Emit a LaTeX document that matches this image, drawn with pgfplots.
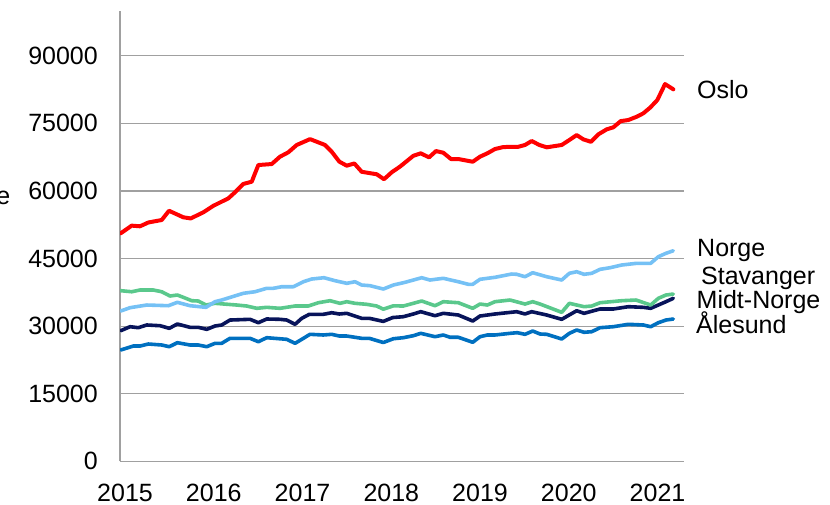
\documentclass[border=0pt]{standalone}
\usepackage{pgfplots}
\pgfplotsset{compat=1.18}
\usepackage{fontspec}
\setmainfont{Liberation Sans}
\definecolor{cOslo}{RGB}{255,0,0}
\definecolor{cNorge}{RGB}{117,193,245}
\definecolor{cStav}{RGB}{90,200,140}
\definecolor{cMidt}{RGB}{8,20,90}
\definecolor{cAal}{RGB}{0,112,192}
\definecolor{cGrid}{RGB}{160,160,160}
\newcommand{\lbl}{\fontsize{25bp}{30bp}\selectfont}
\begin{document}
\begin{tikzpicture}
\path[use as bounding box] (0,0) rectangle (830bp,505bp);
\begin{axis}[
  at={(120bp,43.7bp)}, anchor=south west,
  scale only axis, width=564bp, height=450.6bp,
  xmin=-0.1, xmax=77.48, ymin=0, ymax=100000,
  axis lines*=left,
  axis line style={cGrid, line width=1.2bp},
  ymajorgrids, grid style={cGrid, line width=1.2bp},
  ytick={0,15000,30000,45000,60000,75000,90000},
  yticklabels={0,15000,30000,45000,60000,75000,90000},
  xtick={0.59,12.80,25.01,37.22,49.42,61.63,73.84},
  xticklabels={2015,2016,2017,2018,2019,2020,2021},
  major tick length=0pt,
  /pgf/number format/assume math mode=true,
  tick label style={font=\lbl},
  yticklabel style={anchor=east, inner sep=0pt, xshift=-22bp},
  xticklabel style={anchor=north, inner sep=0pt, yshift=-22.2bp},
  every axis plot/.append style={line width=3.6bp, line join=round, line cap=round},
]
\addplot[cAal] coordinates {(0,24700)(1.73,25580)(2.65,25580)(3.80,26030)(5.64,25810)(6.68,25430)(7.79,26320)(9.53,25810)(10.67,25810)(11.83,25430)(12.97,26180)(13.89,26180)(15.03,27290)(17.79,27290)(18.93,26540)(20.08,27430)(22.83,27070)(23.98,26180)(26.04,28180)(27.87,28030)(29.02,28180)(30.07,27800)(31.09,27800)(33.15,27290)(34.20,27290)(36.12,26360)(37.50,27200)(38.87,27430)(40.25,27870)(41.27,28400)(43.23,27650)(44.37,28030)(45.30,27520)(46.44,27520)(48.42,26410)(49.42,27650)(50.43,28030)(51.48,28030)(53.55,28400)(54.55,28540)(55.61,28180)(56.67,28910)(57.68,28250)(58.60,28180)(60.66,27140)(61.71,28400)(62.72,29140)(63.73,28630)(64.79,28760)(65.93,29650)(67.76,29870)(69.82,30400)(71.88,30250)(72.90,29870)(73.95,30760)(75.00,31350)(76.01,31580)};
\addplot[cMidt] coordinates {(0,28980)(1.28,29870)(2.42,29650)(3.58,30250)(5.41,30090)(6.68,29510)(7.79,30470)(9.53,29730)(10.67,29730)(11.83,29290)(12.97,30020)(13.89,30250)(15.03,31350)(17.79,31510)(18.93,30760)(20.08,31580)(21.91,31510)(22.83,31350)(23.98,30400)(24.90,31730)(25.94,32620)(27.87,32620)(29.02,32970)(30.07,32690)(31.09,32840)(33.15,31730)(34.20,31730)(36.12,31050)(37.41,31900)(38.87,32090)(40.25,32690)(41.27,33200)(43.23,32310)(44.37,32840)(46.44,32460)(48.42,31130)(49.42,32240)(51.48,32690)(54.47,33200)(55.61,32690)(56.53,33200)(58.60,32460)(60.66,31510)(62.72,33420)(63.73,32840)(65.93,33800)(67.76,33800)(69.82,34310)(71.88,34170)(72.90,33950)(75.00,35420)(76.01,36170)};
\addplot[cStav] coordinates {(0,37860)(1.51,37630)(2.65,38010)(4.48,38010)(5.64,37630)(6.78,36680)(7.79,36900)(8.61,36390)(9.77,35640)(10.67,35570)(11.73,34680)(12.97,35060)(15.96,34680)(17.33,34460)(18.71,33950)(20.08,34170)(21.91,33950)(23.98,34460)(25.80,34460)(27.18,35190)(28.79,35640)(30.16,35060)(31.09,35420)(32.23,35060)(33.84,34840)(35.21,34460)(36.12,33760)(37.50,34500)(38.87,34460)(40.25,35060)(41.40,35570)(43.23,34530)(44.37,35420)(46.44,35190)(48.42,33950)(49.42,34900)(50.43,34680)(51.48,35420)(53.55,35790)(55.61,34900)(56.67,35420)(57.68,34900)(60.66,33060)(61.71,35060)(63.73,34310)(64.79,34460)(65.93,35190)(68.91,35640)(70.88,35790)(72.90,34680)(73.95,36170)(75.00,36900)(76.01,37120)};
\addplot[cNorge] coordinates {(0,33350)(1.28,34090)(3.58,34680)(6.55,34530)(7.79,35280)(9.53,34530)(11.73,34170)(12.97,35420)(13.89,35790)(16.86,37280)(18.47,37630)(20.08,38390)(20.99,38390)(22.15,38740)(23.74,38740)(25.12,39850)(26.27,40450)(27.96,40740)(29.48,40080)(31.09,39500)(32.23,39850)(33.15,39120)(34.29,38970)(36.12,38230)(37.50,39120)(39.11,39720)(40.25,40230)(41.40,40740)(42.54,40230)(44.37,40610)(46.44,39850)(47.81,39280)(48.42,39280)(49.42,40390)(51.48,40830)(53.78,41560)(54.47,41500)(55.61,40960)(56.67,41850)(58.60,40960)(60.66,40230)(61.71,41720)(62.72,42070)(63.73,41500)(64.79,41720)(65.93,42600)(67.30,42960)(68.91,43560)(70.98,43940)(72.90,43940)(73.95,45400)(75.00,46160)(76.01,46730)};
\addplot[cOslo, line width=4bp] coordinates {(0,50600)(1.51,52300)(2.65,52150)(3.80,53000)(5.64,53550)(6.64,55600)(8.61,54150)(9.63,53900)(11.36,55250)(12.74,56700)(14.80,58350)(15.72,59700)(16.86,61550)(18.02,62050)(18.93,65750)(20.77,65970)(21.91,67600)(23.05,68570)(24.21,70200)(26.04,71500)(28.10,70200)(29.02,68700)(30.07,66500)(31.09,65600)(32.13,66100)(33.15,64250)(35.21,63700)(36.22,62600)(37.28,64150)(38.42,65400)(40.25,67800)(41.27,68350)(42.41,67450)(43.37,68850)(44.37,68480)(45.43,67080)(46.44,67080)(48.42,66480)(49.42,67600)(50.43,68350)(51.48,69300)(52.63,69740)(54.69,69800)(55.61,70200)(56.53,71080)(57.58,70200)(58.60,69680)(60.66,70200)(61.71,71300)(62.72,72400)(63.63,71450)(64.69,70900)(65.70,72560)(66.85,73670)(67.76,74120)(68.78,75500)(69.82,75740)(70.98,76470)(71.88,77220)(72.81,78470)(73.81,80170)(74.87,83720)(76.01,82550)};
\end{axis}
\node[anchor=base east, inner sep=0pt, font=\lbl] at (10.5bp,300.5bp) {e};
\node[anchor=base west, inner sep=0pt, font=\lbl] at (697bp,406.5bp) {Oslo};
\node[anchor=base west, inner sep=0pt, font=\lbl] at (697bp,248.3bp) {Norge};
\node[anchor=base west, inner sep=0pt, font=\lbl] at (701bp,220bp) {Stavanger};
\node[anchor=base west, inner sep=0pt, font=\lbl] at (696.5bp,196bp) {Midt-Norge};
\node[anchor=base west, inner sep=0pt, font=\lbl] at (696bp,171.7bp) {Ålesund};
\end{tikzpicture}
\end{document}
